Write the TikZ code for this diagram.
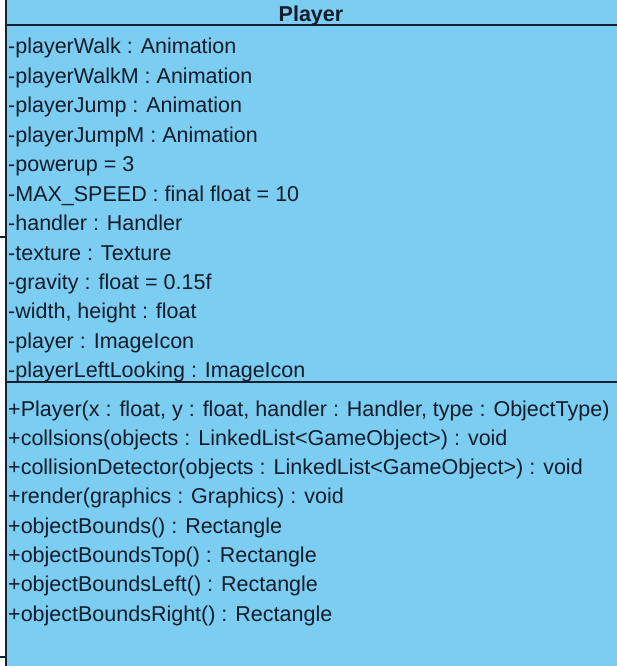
\documentclass[tikz,border=0pt]{standalone}
\usepackage{fontspec}
\setmainfont{Liberation Sans}
\definecolor{classfill}{RGB}{123,205,241}
\definecolor{classline}{RGB}{22,32,48}
\definecolor{classtext}{RGB}{18,28,42}
\begin{document}
\begin{tikzpicture}[x=1pt,y=-1pt,
  member/.style={anchor=base west,inner sep=0pt,text=classtext,
    font=\fontsize{21.5}{25}\selectfont},
  classname/.style={anchor=base,inner sep=0pt,text=classtext,
    font=\fontsize{21.5}{25}\selectfont\bfseries},
  sep/.style={draw=classline,line width=2pt},
  link/.style={draw=classline,line width=1.2pt}]
\useasboundingbox (0,0) rectangle (617,666);
% class body
\fill[classfill] (6,-5) rectangle (625,672);
\draw[sep] (6,-5) -- (6,672);
\draw[sep] (6,25) -- (625,25);
\draw[sep] (6,381.5) -- (625,381.5);
% class name
\node[classname] (name) at (311,22) {Player};
% attributes
\node[member] (a1)  at (8,54)    {-playerWalk : Animation};
\node[member] (a2)  at (8,83.4)  {-playerWalkM : Animation};
\node[member] (a3)  at (8,112.8) {-playerJump : Animation};
\node[member] (a4)  at (8,142.3) {-playerJumpM : Animation};
\node[member] (a5)  at (8,171.7) {-powerup = 3};
\node[member] (a6)  at (8,201.1) {-MAX\_SPEED : final float = 10};
\node[member] (a7)  at (8,230.5) {-handler : Handler};
\node[member] (a8)  at (8,260)   {-texture : Texture};
\node[member] (a9)  at (8,289.4) {-gravity : float = 0.15f};
\node[member] (a10) at (8,318.8) {-width, height : float};
\node[member] (a11) at (8,348.2) {-player : ImageIcon};
\node[member] (a12) at (8,377.6) {-playerLeftLooking : ImageIcon};
% operations
\node[member] (m1) at (8,416)   {+Player(x : float, y : float, handler : Handler, type : ObjectType)};
\node[member] (m2) at (8,445.3) {+collsions(objects : LinkedList<GameObject>) : void};
\node[member] (m3) at (8,474.6) {+collisionDetector(objects : LinkedList<GameObject>) : void};
\node[member] (m4) at (8,503.9) {+render(graphics : Graphics) : void};
\node[member] (m5) at (8,533.2) {+objectBounds() : Rectangle};
\node[member] (m6) at (8,562.5) {+objectBoundsTop() : Rectangle};
\node[member] (m7) at (8,591.8) {+objectBoundsLeft() : Rectangle};
\node[member] (m8) at (8,621.1) {+objectBoundsRight() : Rectangle};
% incoming association ends
\coordinate (p1) at (6,237);
\coordinate (q1) at (-2,237);
\coordinate (p2) at (6,657);
\coordinate (q2) at (-2,657);
\draw[link] (q1) -- (p1);
\draw[link] (q2) -- (p2);
\end{tikzpicture}
\end{document}
